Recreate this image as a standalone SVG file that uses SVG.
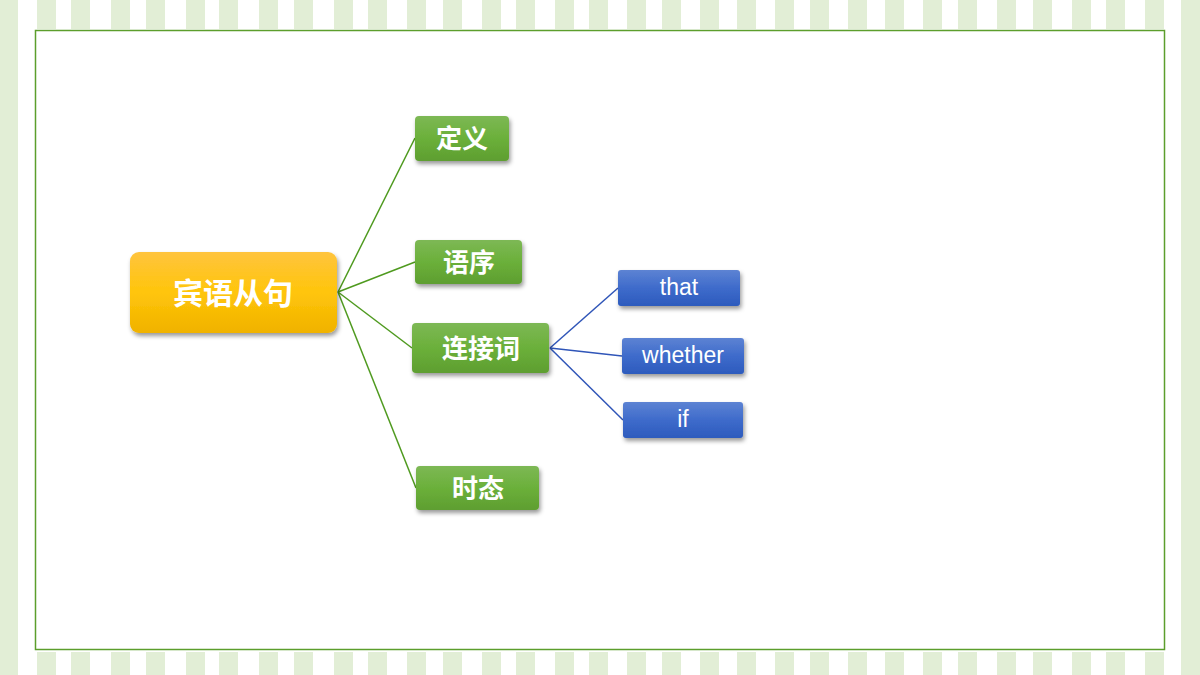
<svg xmlns="http://www.w3.org/2000/svg" width="1200" height="675" viewBox="0 0 1200 675">
<defs>
<style>
.stripe{fill:#e2eed6}
.frame{fill:#ffffff;stroke:#5c9e2c;stroke-width:1.5}
.cn{font-family:"Noto Sans CJK SC","Noto Sans",sans-serif;font-weight:bold;fill:#ffffff;text-anchor:middle;dominant-baseline:central}
.en{font-family:"Liberation Sans",Arial,sans-serif;fill:#ffffff;text-anchor:middle;dominant-baseline:central;font-size:23px}
.gl{stroke:#4f9a1f;stroke-width:1.5;fill:none}
.bl{stroke:#2f55b8;stroke-width:1.5;fill:none}
</style>
<linearGradient id="gold" x1="0" y1="0" x2="0" y2="1">
<stop offset="0" stop-color="#ffc43e"/>
<stop offset="0.5" stop-color="#ffc50a"/>
<stop offset="1" stop-color="#f0b200"/>
</linearGradient>
<linearGradient id="green" x1="0" y1="0" x2="0" y2="1">
<stop offset="0" stop-color="#7db855"/>
<stop offset="0.5" stop-color="#6bb03a"/>
<stop offset="1" stop-color="#5e9e30"/>
</linearGradient>
<linearGradient id="blue" x1="0" y1="0" x2="0" y2="1">
<stop offset="0" stop-color="#5d83d3"/>
<stop offset="0.5" stop-color="#3e6bcb"/>
<stop offset="1" stop-color="#2d5bbd"/>
</linearGradient>
<filter id="sh" x="-20%" y="-20%" width="140%" height="150%">
<feDropShadow dx="1.5" dy="3" stdDeviation="2" flood-color="#000" flood-opacity="0.4"/>
</filter>
<g id="col"><rect class="stripe" x="0" y="0" width="19" height="29"/><rect class="stripe" x="0" y="652" width="19" height="23"/></g>
</defs>
<rect x="0" y="0" width="1200" height="675" fill="#ffffff"/>
<g id="stripes">
<rect class="stripe" x="0" y="0" width="18" height="675"/>
<rect class="stripe" x="1181" y="0" width="19" height="675"/>
<use href="#col" x="37"/><use href="#col" x="71"/><use href="#col" x="111"/><use href="#col" x="146"/><use href="#col" x="186"/><use href="#col" x="219"/><use href="#col" x="259"/><use href="#col" x="294"/><use href="#col" x="334"/><use href="#col" x="368"/><use href="#col" x="407"/><use href="#col" x="443"/><use href="#col" x="482"/><use href="#col" x="516"/><use href="#col" x="555"/><use href="#col" x="589"/><use href="#col" x="627"/><use href="#col" x="662"/><use href="#col" x="700"/><use href="#col" x="737"/><use href="#col" x="775"/><use href="#col" x="810"/><use href="#col" x="848"/><use href="#col" x="885"/><use href="#col" x="923"/><use href="#col" x="958"/><use href="#col" x="997"/><use href="#col" x="1033"/><use href="#col" x="1072"/><use href="#col" x="1106"/><use href="#col" x="1145"/>
</g>
<rect class="frame" x="35.5" y="30.5" width="1129" height="619"/>
<g id="connectors">
<line class="gl" x1="338" y1="292" x2="415" y2="138"/>
<line class="gl" x1="338" y1="292" x2="415" y2="262"/>
<line class="gl" x1="338" y1="292" x2="412" y2="348"/>
<line class="gl" x1="338" y1="292" x2="416" y2="488"/>
<line class="bl" x1="550" y1="348" x2="618" y2="288"/>
<line class="bl" x1="550" y1="348" x2="622" y2="356"/>
<line class="bl" x1="550" y1="348" x2="623" y2="420"/>
</g>
<g id="root">
<rect x="130" y="252" width="207" height="81" rx="9" fill="url(#gold)" filter="url(#sh)"/>
<text class="cn" x="233" y="291" font-size="30">宾语从句</text>
</g>
<g id="n-def">
<rect x="415" y="116" width="94" height="45" rx="4" fill="url(#green)" filter="url(#sh)"/>
<text class="cn" x="462" y="136" font-size="26">定义</text>
</g>
<g id="n-order">
<rect x="415" y="240" width="107" height="44" rx="4" fill="url(#green)" filter="url(#sh)"/>
<text class="cn" x="469" y="260" font-size="26">语序</text>
</g>
<g id="n-conj">
<rect x="412" y="323" width="137" height="50" rx="4" fill="url(#green)" filter="url(#sh)"/>
<text class="cn" x="481" y="346" font-size="26">连接词</text>
</g>
<g id="n-tense">
<rect x="416" y="466" width="123" height="44" rx="4" fill="url(#green)" filter="url(#sh)"/>
<text class="cn" x="478" y="486" font-size="26">时态</text>
</g>
<g id="n-that">
<rect x="618" y="270" width="122" height="36" rx="3" fill="url(#blue)" filter="url(#sh)"/>
<text class="en" x="679" y="287">that</text>
</g>
<g id="n-whether">
<rect x="622" y="338" width="122" height="36" rx="3" fill="url(#blue)" filter="url(#sh)"/>
<text class="en" x="683" y="355">whether</text>
</g>
<g id="n-if">
<rect x="623" y="402" width="120" height="36" rx="3" fill="url(#blue)" filter="url(#sh)"/>
<text class="en" x="683" y="419">if</text>
</g>
</svg>
